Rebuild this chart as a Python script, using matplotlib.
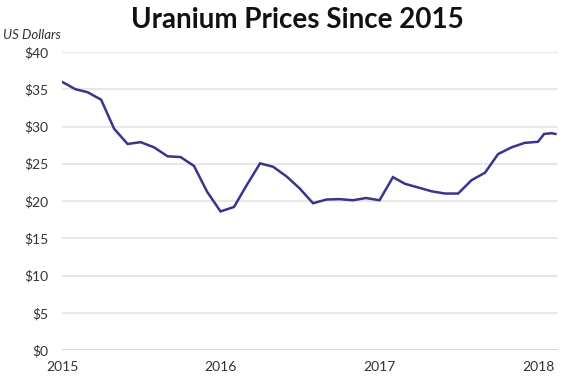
import matplotlib
matplotlib.use("Agg")
import matplotlib.pyplot as plt
import matplotlib.dates as mdates
import numpy as np
import datetime as dt

# ---- data ----
months = [dt.date(2015 + (i // 12), i % 12 + 1, 1) for i in range(37)]
extra_dates = [dt.date(2018, 1, 15), dt.date(2018, 2, 1), dt.date(2018, 2, 10)]
dates = months + extra_dates
prices = [36.0, 35.0, 34.6, 33.6, 29.7, 27.65, 27.9, 27.2, 26.0, 25.9, 24.7, 21.25,
          18.6, 19.2, 22.1, 25.05, 24.6, 23.3, 21.7, 19.7, 20.2, 20.25, 20.1, 20.4,
          20.1, 23.2, 22.3, 21.8, 21.3, 21.0, 21.0, 22.8, 23.8, 26.3, 27.2, 27.8,
          27.95, 29.0, 29.1, 29.0]
y_ticks = [0, 5, 10, 15, 20, 25, 30, 35, 40]
y_labels = ["$0", "$5", "$10", "$15", "$20", "$25", "$30", "$35", "$40"]
x_ticks = [dt.date(2015, 1, 1), dt.date(2016, 1, 1), dt.date(2017, 1, 1), dt.date(2018, 1, 1)]
x_labels = ["2015", "2016", "2017", "2018"]
title = "Uranium Prices Since 2015"
unit_label = "US Dollars"

plt.rcParams['font.family'] = ['Lato', 'DejaVu Sans']

fig = plt.figure(figsize=(5.7, 3.78), dpi=100)
ax = fig.add_axes([62/570, 1 - 350/378, (558 - 62)/570, (350 - 52)/378])

ax.plot(dates, prices, color="#38358a", linewidth=1.8, solid_joinstyle="miter", zorder=3)

ax.set_ylim(0, 40)
ax.set_xlim(dt.date(2015, 1, 1), dt.date(2018, 2, 16))
ax.set_yticks(y_ticks)
ax.set_yticklabels(y_labels)
ax.set_xticks(x_ticks)
ax.set_xticklabels(x_labels)

for v in y_ticks:
    ax.axhline(v, color="#d6d6d6" if v == 0 else "#e8e8e8", linewidth=1.5, zorder=1)

for s in ax.spines.values():
    s.set_visible(False)
ax.tick_params(axis="both", length=0, labelsize=10, colors="#333333")
ax.tick_params(axis="y", pad=10)
ax.tick_params(axis="x", pad=8)

fig.text(297/570, 1 - 20/378, title, ha="center", va="center",
         fontsize=20, fontweight="bold", color="#111111")
fig.text(3/570, 1 - 35/378, unit_label, ha="left", va="center",
         fontsize=9.5, fontstyle="italic", color="#333333")

fig.savefig("out.png", dpi=100)
